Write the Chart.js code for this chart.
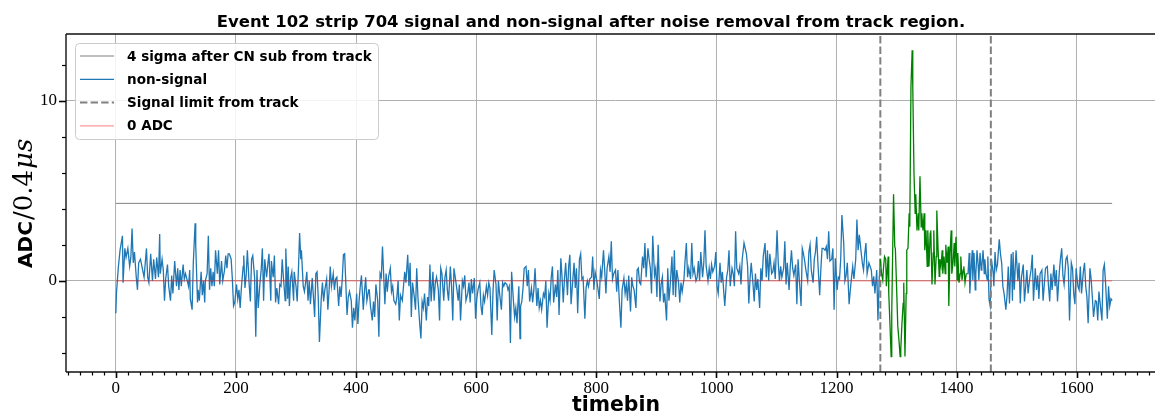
<!DOCTYPE html>
<html>
<head>
<meta charset="utf-8">
<script src="https://cdn.jsdelivr.net/npm/chart.js@4.4.0/dist/chart.umd.min.js"></script>
<style>
  html, body { margin: 0; padding: 0; background: #fff; overflow: hidden; }
  #wrap { width: 1165px; height: 416px; }
</style>
</head>
<body>
<div id="wrap"><canvas id="strip" width="1165" height="416"></canvas></div>
<script>
// event 102, strip 704 : ADC per timebin after CN subtraction
var tbNonSignal = [
  0,1,4,7,11,12,15,17,20,23,25,27,29,31,34,36,38,41,44,47,51,53,55,58,61,63,66,68,71,73,74,77,79,81,83,86,88,91,93,95,98,101,103,105,107,109,112,114,116,119,121,123,124,127,129,132,133,136,137,139,142,144,146,148,149,152,154,156,158,160,162,164,166,169,171,173,176,178,181,183,185,187,189,192,194,196,198,201,203,205,207,209,212,213,
  215,217,219,222,224,226,228,231,233,235,237,240,242,244,246,248,251,253,255,258,259,262,264,266,268,271,273,275,277,279,282,283,286,287,289,291,293,296,297,300,302,304,306,308,309,312,314,316,318,320,322,324,327,329,331,333,335,337,339,342,344,346,348,351,353,355,357,359,362,364,366,368,371,373,375,377,379,381,383,385,387,389,392,394,396,398,401,403,405,407,409,412,414,416,418,421,
  422,424,427,429,431,433,436,438,440,442,444,447,448,450,452,454,457,459,461,463,466,468,470,472,474,477,479,481,483,486,488,490,492,494,497,499,501,503,506,508,510,512,514,517,519,521,523,525,528,530,532,534,537,539,541,543,546,548,550,552,554,557,559,561,563,566,568,570,572,574,577,579,581,583,586,588,590,592,594,597,599,601,603,606,608,610,612,614,617,619,621,623,626,628,630,
  633,635,637,639,642,644,646,648,651,653,655,657,659,662,664,666,668,671,673,674,676,678,680,683,685,687,689,692,694,696,698,701,703,705,707,709,712,714,716,718,721,723,725,727,729,732,734,736,738,741,743,745,747,749,752,754,756,758,761,763,765,767,769,772,774,776,778,781,783,785,787,789,792,794,796,798,801,803,805,807,809,812,814,816,818,821,823,825,827,829,832,834,836,838,
  841,843,846,848,850,852,854,857,859,861,863,866,868,870,872,874,877,879,881,883,886,888,890,892,894,897,899,901,903,906,908,910,912,914,917,919,921,923,926,928,930,932,934,937,939,941,943,946,948,950,952,954,957,959,961,963,966,968,970,972,974,977,979,981,983,986,988,990,992,994,997,999,1001,1003,1006,1008,1010,1012,1014,1017,1019,1021,1023,1026,1028,1030,1032,1034,1037,1039,1041,1043,1046,
  1050,1052,1054,1056,1058,1061,1063,1065,1067,1069,1072,1074,1076,1078,1081,1083,1085,1087,1089,1092,1094,1096,1098,1101,1103,1105,1107,1109,1112,1114,1116,1118,1121,1123,1125,1127,1129,1132,1134,1136,1138,1141,1143,1145,1147,1149,1152,1154,1156,1158,1161,1163,1165,1167,1169,1172,1174,1176,1178,1181,1183,1185,1187,1189,1192,1194,1196,1198,1201,1203,1205,1207,1209,1212,1214,1216,1218,1221,1223,1225,1227,1229,1232,1234,1236,1238,1241,1243,1245,1247,1249,1251,1254,
  1258,1260,1262,1264,1267,1269,1271,1273,
  1340,
  1416,1419,1421,1422,1424,1426,1427,1429,1431,1432,1434,1436,1437,1439,1441,1442,1444,1446,1447,1449,1451,1452,1454,1456,1458,1461,
  1462,1464,1466,1468,1471,1473,1475,1477,1479,1482,1484,1486,1488,1491,1493,1494,1496,1498,1499,1502,1504,1506,1508,1511,1513,1515,1517,1519,1522,1524,1526,1528,1531,1533,1535,1537,1539,1542,1544,1546,1548,1551,1553,1555,1557,1559,1562,1564,1566,1568,1571,1573,1575,1577,1579,1582,1584,1586,1588,1591,1593,1595,1597,1599,1602,1604,1606,1608,1611,1613,1615,1617,1619,1622,1624,1626,1628,1631,1633,1635,1637,1639,1642,1644,1646,1648,1651,1653,1655,1657,1659
];
var adcNonSignal = [
  -1.8,-0.7,0.7,1.7,2.5,-0.1,1.8,1.3,1.8,0.8,1.3,2.9,1.0,1.6,0.2,-0.5,1.0,1.2,0.7,0.2,1.8,0.2,-0.1,1.5,0,1.2,0.1,1.3,0.2,2.6,0.4,1.2,0.6,-1.1,0.1,0.9,-0.3,-1.1,0.3,-0.7,1.1,-0.3,0.7,-0.5,0.6,-0.3,0.9,0.1,0.4,0,-0.3,0.6,-1.0,-1.6,1.0,3.2,2.0,-1.2,-0.5,-1.1,0.5,-0.8,0,-1.2,0,0.4,2.5,-0.5,0.7,-0.3,0.5,-0.3,1.7,0.4,1.7,-0.2,1.1,0,0.6,1.4,0.7,1.5,1.5,1.2,0.1,-1.4,-1.2,-0.2,-1.0,-0.5,-1.5,-0.4,0.8,1.4,
  -0.4,0.3,1.7,-0.2,-1.15,1.2,1.4,0.2,-3.1,0.6,-1.5,-0.1,0.6,1.8,-1.1,1.2,0.2,0.9,1.5,-1.1,1.1,0.2,1.4,-1.2,-0.4,-1.3,-0.2,-0.3,1.2,0.2,-1.1,1.8,-1.0,0.8,-1.4,0.15,0.5,-1.1,0.5,-0.3,-1.15,0.6,2.65,1.2,1.7,-0.3,-0.6,-0.1,0.5,-1.1,0,-1.3,0.15,-0.9,-2.0,0.4,0.5,-0.9,-3.4,-1.0,-0.1,-1.15,-0.5,0.1,-1.6,-0.6,0.8,-0.3,0.4,-0.5,0.1,0.2,-1.4,-0.3,-0.9,0.1,1.45,1.5,-0.2,-1.9,-0.9,-0.6,-1.1,-2.6,-1.5,-2.2,-0.7,-2.4,-1.1,-0.3,0.3,-1.6,-0.6,0.2,-1.1,-0.5,
  -0.5,-1.4,-2.2,-1.15,-2.0,-0.2,-1.1,-3.1,0.4,0.2,1.9,-0.5,-1.3,0.4,-0.6,0.2,0.7,-0.6,-0.3,-1.1,-1.3,-0.9,0,-2.2,-0.8,-1.1,-0.3,0.5,-0.1,1.45,-0.3,1.0,-2.0,-0.1,-0.9,-1.6,0.7,-0.9,-2.4,-3.2,-1.15,-1.5,-0.7,-2.2,-0.9,-1.4,0.9,-1.15,0.5,-1.1,-0.1,0.2,-0.5,-2.2,0.7,0.4,-1.1,0.2,0.6,-0.5,-1.1,0.8,-0.3,-2.2,0.7,0,-0.5,-1.1,-0.2,-2.2,0,-0.3,0.3,-1.1,-0.7,-0.1,-1.2,0.1,-0.7,0.15,-2.1,-1.0,-0.5,-0.1,-1.4,-1.9,-0.8,-1.15,-0.3,-0.8,-0.1,-0.4,-3.0,-0.6,0.6,
  -0.2,-2.2,0,-0.7,-1.6,-0.1,-0.3,-0.1,-0.2,-0.5,-0.3,-3.45,0.5,-1.1,-2.0,-1.5,-2.35,-0.3,-3.2,-1.4,-1.15,-0.4,0.7,0.8,-0.3,0.6,-1.15,-0.4,-1.2,-0.5,0.7,-1.4,-0.4,-1.5,-1.1,-1.6,-0.7,-0.9,0,-2.6,-0.7,-1.1,0.2,0.8,-1.2,-0.2,-0.9,0.6,-1.9,1.25,0.2,-1.2,0.1,1.0,-0.8,0.8,1.45,-1.3,0.1,1.0,-0.4,0.7,-1.8,1.2,1.5,0.1,0.2,-2.1,-0.4,0,-0.3,0.1,0.2,1.35,-0.5,0.5,0,-0.5,-1.0,0.6,0.2,1.7,0.6,-0.7,0.7,1.35,0.5,2.2,0.1,0.4,0.6,-0.6,0.6,-0.9,
  -2.6,-0.5,0.15,-0.7,-0.2,-1.1,0.3,-1.7,0.2,-0.3,-0.5,-1.5,0.6,0.7,-0.1,-0.2,1.35,0.7,2.1,0.2,1.8,1.2,0.7,-0.7,2.5,0.3,0.7,-0.9,2.0,-1.15,-0.2,0.2,-1.2,-0.7,-2.2,0.7,-1.1,-0.3,1.35,-0.8,1.7,-0.9,0.6,-0.1,-1.2,-0.1,-0.6,0.1,1.2,2.1,0.2,0.7,0.1,2.1,0.4,0.7,0,0.2,1.1,0,1.6,0.2,1.0,2.8,0.8,0,0.7,0.1,0.9,0.5,0.8,1.6,-0.3,-0.7,1.0,-0.1,0.5,-0.5,-1.4,0.2,0.6,1.7,-0.3,0.7,0.4,-0.3,2.75,0.7,0.4,0.8,-0.2,1.2,2.1,
  1.5,0.8,-1.25,0.1,1.0,-0.2,-1.15,0.4,-0.5,0.1,-1.5,0.7,0,1.35,2.1,0.2,1.7,0,1.5,0.4,0.5,1.0,0.1,2.8,1.0,0,0.8,0.2,0.7,2.2,-0.2,1.0,-0.5,0.8,1.7,0.7,0.3,0.9,-1.3,1.2,0.1,-1.4,1.8,1.5,1.1,0.6,0,1.6,2.0,0.6,-0.1,1.2,1.6,2.45,1.0,-0.8,0.7,1.8,1.8,1.7,1.9,1.2,2.75,1.1,1.2,1.8,-1.6,1.25,-0.5,0.2,0.1,1.2,3.65,2.1,0,0.3,1.0,-1.3,-0.5,0.2,0.8,0.1,1.2,3.4,1.7,2.55,1.6,1.0,0.6,1.5,2.1,0.4,1.0,
  0.6,-0.3,0.25,-0.7,0.6,-2.2,0.05,1.2,
  null,
  0.4,0.4,1.55,-0.7,0.6,1.7,0.05,1.55,-0.5,0.4,1.7,0.8,0.05,1.55,0.6,0.8,1.7,0.4,1.2,0.4,0.05,1.35,-1.05,-1.4,1.2,0.4,
  -0.3,1.6,0.6,0.9,2.3,1.5,1.0,-0.3,-0.7,-1.6,-0.8,0.8,-1.25,1.5,-1.1,1.6,-0.5,1.0,1.7,0,1.0,-1.25,0.2,0.9,-1.15,-0.3,0.6,-0.7,0.2,0.6,1.45,-1.1,0.7,-0.5,0.3,-1.0,0.4,0.6,-1.1,-0.2,0.7,0.8,-0.3,-1.15,0.4,-0.5,0.9,-0.3,0.6,-1.15,0.5,1.25,1.8,0.3,-0.2,1.2,1.35,0.7,-2.2,1.0,0.7,-0.7,-1.3,0.7,-0.3,-0.5,0.8,-0.7,0.5,1.0,-0.3,-0.9,-2.35,0.7,0.1,-0.9,-2.0,-1.1,-1.15,-2.2,-0.6,-1.25,-2.2,0.6,0.9,-0.1,-2.1,-0.3,-1.4,-1.0,-1.1
];
var tbSignal = [
  1273,1275,1277,1278,1280,1282,1283,1286,1287,1289,1291,1292,1295,1297,1298,1300,1302,1304,1306,1307,1309,1311,1312,1314,1316,1317,1319,1321,1322,1324,1326,1327,1329,1331,1332,1334,1336,1337,1339,1341,1342,1344,1346,1347,1349,1351,1352,1354,1356,1357,1359,1361,1362,1364,1366,1367,1369,1371,1372,1374,1376,1377,1379,1381,1382,1384,1386,1387,1389,1391,1392,1394,1396,1397,1399,1401,1402,1404,1406,1407,1409,1411,1412,1414,1416
];
var adcSignal = [
  1.2,0.4,0.05,0.6,1.35,1.2,-0.3,1.35,-0.7,-2.35,-4.2,-1.8,4.8,1.9,1.8,-0.3,-2.5,-3.3,-4.2,-3.8,-2.35,-1.25,-0.1,-4.2,-0.7,1.7,1.8,3.75,3.0,10.8,12.8,10.8,6.0,3.75,4.8,2.8,3.75,2.8,5.8,3.0,3.75,2.8,3.75,1.7,2.8,0.8,2.8,0.8,2.65,2.8,-0.2,1.55,2.8,-0.2,1.35,3.9,1.9,0.25,1.2,0.8,1.7,0.4,1.35,0.4,2.0,1.0,1.9,-1.4,1.55,2.8,0.4,1.0,2.1,0.8,2.45,0.05,1.55,-0.1,0.4,1.35,0.05,0.6,0.8,-0.1,0.4
];
var sigmaCut = 4.3;          // 4 sigma level
var signalLimits = [1273, 1457];
var firstBin = 0, lastBin = 1659;
var xRange = [-83, 1747];     // right edge of the axes runs off the page
var yRange = [-5.06, 13.7];
var xTickValues = [0, 200, 400, 600, 800, 1000, 1200, 1400, 1600];
var yTickValues = [0, 10];
var titleText = 'Event 102 strip 704 signal and non-signal after noise removal from track region.';
var legendLabels = ['4 sigma after CN sub from track', 'non-signal', 'Signal limit from track', '0 ADC'];

var SANS = '"DejaVu Sans", sans-serif';
var SERIF = '"DejaVu Serif", serif';
var TICKFONT = { family: '"Liberation Serif", serif', size: 17 };

function pts(tb, v) {
  return tb.map(function (t, i) { return { x: t, y: v[i] }; });
}

// size a font so that text spans the given width
function fitFont(ctx, text, width, style, family) {
  ctx.font = style + ' 100px ' + family;
  var w = ctx.measureText(text).width;
  return style + ' ' + (100 * width / w).toFixed(2) + 'px ' + family;
}

var limitData = [];
signalLimits.forEach(function (t, i) {
  if (i > 0) limitData.push({ x: (signalLimits[i - 1] + t) / 2, y: null });
  limitData.push({ x: t, y: yRange[0] }, { x: t, y: yRange[1] });
});

var decor = {
  id: 'decor',
  afterDraw: function (chart) {
    var ctx = chart.ctx, a = chart.chartArea;
    var xs = chart.scales.x, ys = chart.scales.y;
    ctx.save();

    // spines (the right one is off the page)
    ctx.strokeStyle = '#111';
    ctx.lineWidth = 1.4;
    ctx.beginPath();
    ctx.moveTo(a.left, a.top); ctx.lineTo(chart.width, a.top);
    ctx.moveTo(a.left, a.top); ctx.lineTo(a.left, a.bottom);
    ctx.moveTo(a.left, a.bottom); ctx.lineTo(chart.width, a.bottom);
    ctx.stroke();

    // major / minor tick marks
    ctx.strokeStyle = '#000';
    for (var v = -80; v <= 1740; v += 20) {
      var px = Math.round(xs.getPixelForValue(v)) + 0.5;
      var major = v % 200 === 0;
      ctx.lineWidth = major ? 1.6 : 1.2;
      ctx.beginPath();
      ctx.moveTo(px, a.bottom); ctx.lineTo(px, a.bottom + (major ? 6 : 3.5));
      ctx.stroke();
    }
    for (var w = -4; w <= 12; w += 2) {
      var py = Math.round(ys.getPixelForValue(w)) + 0.5;
      var maj = w % 10 === 0;
      ctx.lineWidth = maj ? 1.6 : 1.2;
      ctx.beginPath();
      ctx.moveTo(a.left, py); ctx.lineTo(a.left - (maj ? 7 : 4), py);
      ctx.stroke();
    }

    // title
    ctx.fillStyle = '#000';
    ctx.textBaseline = 'alphabetic';
    ctx.textAlign = 'center';
    ctx.font = fitFont(ctx, titleText, 749, 'bold', SANS);
    ctx.fillText(titleText, 591, 27);

    // x label
    ctx.font = fitFont(ctx, 'timebin', 88, 'bold', SANS);
    ctx.fillText('timebin', 616, 411);

    // y label: ADC/0.4 mu s
    ctx.save();
    ctx.translate(32, 268);
    ctx.rotate(-Math.PI / 2);
    ctx.textAlign = 'left';
    ctx.font = fitFont(ctx, 'ADC', 47, 'bold', SANS);
    ctx.fillText('ADC', 0, 0);
    var off = ctx.measureText('ADC').width + 1;
    ctx.font = '26px ' + SERIF;
    ctx.fillText('/0.4', off, 0);
    off += ctx.measureText('/0.4').width + 1;
    ctx.font = 'italic 26px ' + SERIF;
    ctx.fillText('\u03bcs', off, 0);
    ctx.restore();

    // legend
    var bx = 75, by = 43, bw = 303, bh = 96;
    ctx.fillStyle = 'rgba(255,255,255,0.85)';
    ctx.strokeStyle = '#cccccc';
    ctx.lineWidth = 1;
    ctx.beginPath();
    ctx.roundRect(bx + 0.5, by + 0.5, bw, bh, 4);
    ctx.fill(); ctx.stroke();

    var sets = [chart.data.datasets[4], chart.data.datasets[3], chart.data.datasets[2], chart.data.datasets[1]];
    var legFont = fitFont(ctx, legendLabels[0], 245, 'bold', SANS);
    ctx.textAlign = 'left';
    ctx.textBaseline = 'middle';
    sets.forEach(function (ds, i) {
      var cy = 56 + i * 23.3;
      ctx.strokeStyle = ds.borderColor;
      ctx.lineWidth = ds.borderWidth;
      ctx.setLineDash(ds.borderDash || []);
      ctx.beginPath();
      ctx.moveTo(80, cy); ctx.lineTo(114, cy);
      ctx.stroke();
      ctx.setLineDash([]);
      ctx.fillStyle = '#000';
      ctx.font = legFont;
      ctx.fillText(legendLabels[i], 127, cy + 1);
    });
    ctx.restore();
  }
};

function fixedTicks(values) {
  return function (scale) {
    scale.ticks = values.map(function (v) { return { value: v }; });
  };
}

new Chart(document.getElementById('strip'), {
  type: 'line',
  data: {
    datasets: [
      { label: 'signal', data: pts(tbSignal, adcSignal), borderColor: '#008000', borderWidth: 1.3, order: 0 },
      { label: legendLabels[3], data: [{ x: firstBin, y: 0 }, { x: lastBin, y: 0 }], borderColor: 'rgba(255,0,0,0.4)', borderWidth: 1.2, order: 1 },
      { label: legendLabels[2], data: limitData, borderColor: '#808080', borderWidth: 2, borderDash: [7.4, 3.2], order: 2 },
      { label: legendLabels[1], data: pts(tbNonSignal, adcNonSignal), borderColor: '#1f77b4', borderWidth: 1.3, order: 3 },
      { label: legendLabels[0], data: [{ x: firstBin, y: sigmaCut }, { x: lastBin, y: sigmaCut }], borderColor: '#808080', borderWidth: 1, order: 4 }
    ]
  },
  options: {
    responsive: false,
    animation: false,
    devicePixelRatio: 1,
    spanGaps: false,
    elements: { point: { radius: 0 }, line: { tension: 0 } },
    layout: { padding: { left: 0, right: 0, top: 34, bottom: 0 } },
    plugins: { legend: { display: false }, title: { display: false }, tooltip: { enabled: false } },
    scales: {
      x: {
        type: 'linear',
        min: xRange[0], max: xRange[1],
        afterBuildTicks: fixedTicks(xTickValues),
        afterFit: function (s) { s.height = 44; s.paddingLeft = 0; s.paddingRight = 0; },
        border: { display: false },
        grid: { color: '#b0b0b0', lineWidth: 1, drawTicks: false },
        ticks: {
          autoSkip: false, maxRotation: 0, padding: 6, color: '#000', font: TICKFONT,
          callback: function (v) { return String(v); }
        }
      },
      y: {
        min: yRange[0], max: yRange[1],
        afterBuildTicks: fixedTicks(yTickValues),
        afterFit: function (s) { s.width = 66; s.paddingTop = 0; s.paddingBottom = 0; },
        border: { display: false },
        grid: { color: '#b0b0b0', lineWidth: 1, drawTicks: false },
        ticks: {
          padding: 9, color: '#000', font: TICKFONT,
          callback: function (v) { return String(v); }
        }
      }
    }
  },
  plugins: [decor]
});
</script>
</body>
</html>
